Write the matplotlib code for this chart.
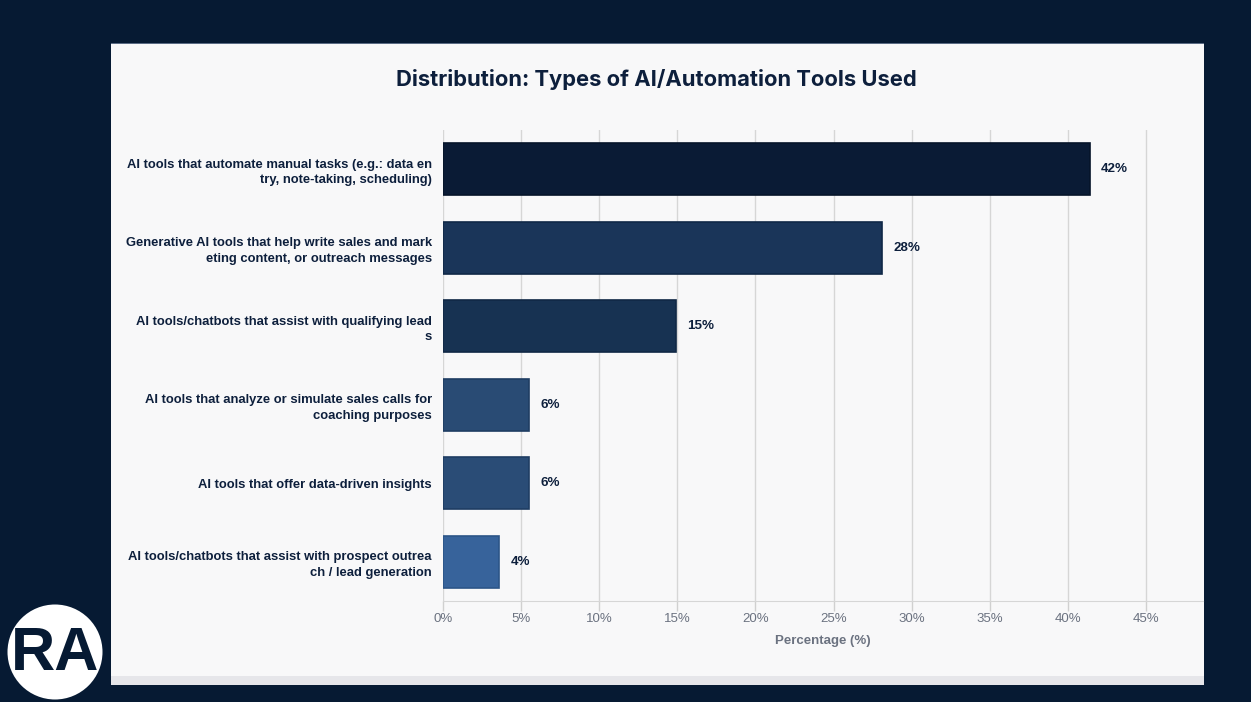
import matplotlib
matplotlib.use("Agg")
import matplotlib.pyplot as plt
from matplotlib.patches import Rectangle, Ellipse

categories = [
    "AI tools that automate manual tasks (e.g.: data en\ntry, note-taking, scheduling)",
    "Generative AI tools that help write sales and mark\neting content, or outreach messages",
    "AI tools/chatbots that assist with qualifying lead\ns",
    "AI tools that analyze or simulate sales calls for\ncoaching purposes",
    "AI tools that offer data-driven insights",
    "AI tools/chatbots that assist with prospect outrea\nch / lead generation",
]
values = [41.4, 28.1, 14.9, 5.5, 5.5, 3.6]
value_labels = ["42%", "28%", "15%", "6%", "6%", "4%"]
bar_colors = ["#0a1b35", "#1a3559", "#173252", "#294b74", "#2a4c76", "#37639b"]
edge_colors = ["#06142a", "#102847", "#102845", "#1f3d63", "#1f3d63", "#2c5588"]
xticks = [0, 5, 10, 15, 20, 25, 30, 35, 40, 45]
xtick_labels = [f"{t}%" for t in xticks]

W, H = 1251, 702
fig = plt.figure(figsize=(W / 100, H / 100), dpi=100)
fig.patch.set_facecolor("#061a33")

# white panel
fig.patches.append(Rectangle((111 / W, 1 - 685 / H), (1204 - 111) / W, (685 - 43) / H,
                             transform=fig.transFigure, facecolor="#f8f8f9", edgecolor="none", zorder=-3))
fig.patches.append(Rectangle((111 / W, 1 - 685 / H), (1204 - 111) / W, 9 / H,
                             transform=fig.transFigure, facecolor="#e6e6ea", edgecolor="none", zorder=-2))
fig.patches.append(Rectangle((111 / W, 1 - 44 / H), (1204 - 111) / W, 1.5 / H,
                             transform=fig.transFigure, facecolor="#5a6b84", edgecolor="none", zorder=-2))

ax = fig.add_axes([443 / W, 1 - 601 / H, (1204 - 1 - 443) / W, (601 - 130) / H])
ax.set_zorder(1)
ax.set_facecolor("none")
y = list(range(len(categories)))
ax.barh(y, values, height=0.66, color=bar_colors, edgecolor=edge_colors, linewidth=1.2, zorder=3)
ax.set_xlim(0, 48.65)
ax.set_ylim(len(categories) - 0.5, -0.5)

ax.set_xticks(xticks)
ax.set_xticklabels(xtick_labels, fontsize=9.5, color="#6b7280", family="Liberation Sans")
ax.tick_params(axis="x", length=7, color="#d0d0d0", width=1, pad=2)
ax.set_yticks(y)
ax.set_yticklabels(categories, fontsize=9.4, fontweight="bold", color="#0d1f3c",
                   family="Liberation Sans", linespacing=1.38)
ax.tick_params(axis="y", length=0, pad=8)
ax.grid(axis="x", color="#d6d6d6", linewidth=1, zorder=0)
for s in ["top", "right", "left"]:
    ax.spines[s].set_visible(False)
ax.spines["bottom"].set_color("#d6d6d6")

for yi, v, lab in zip(y, values, value_labels):
    ax.text(v + 0.72, yi, lab, va="center", ha="left", fontsize=9.6, fontweight="bold",
            color="#0d1f3c", family="Liberation Sans", zorder=4)

ax.set_xlabel("Percentage (%)", fontsize=9.5, fontweight="bold", color="#6b7280",
              family="Liberation Sans", labelpad=7)

fig.text(656 / W, 1 - 79 / H, "Distribution: Types of AI/Automation Tools Used",
         ha="center", va="center", fontsize=15.8, fontweight="bold", color="#0d1f3c",
         family="Inter")

# logo
fig.patches.append(Ellipse((55 / W, 1 - 652 / H), 95 / W, 95 / H, transform=fig.transFigure,
                           facecolor="white", edgecolor="none", zorder=5))
fig.text(55 / W, 1 - 654 / H, "RA", ha="center", va="center", fontsize=44, fontweight="bold",
         color="#061a33", family="Liberation Sans", zorder=6)

fig.savefig("out.png", dpi=100, facecolor=fig.get_facecolor())
